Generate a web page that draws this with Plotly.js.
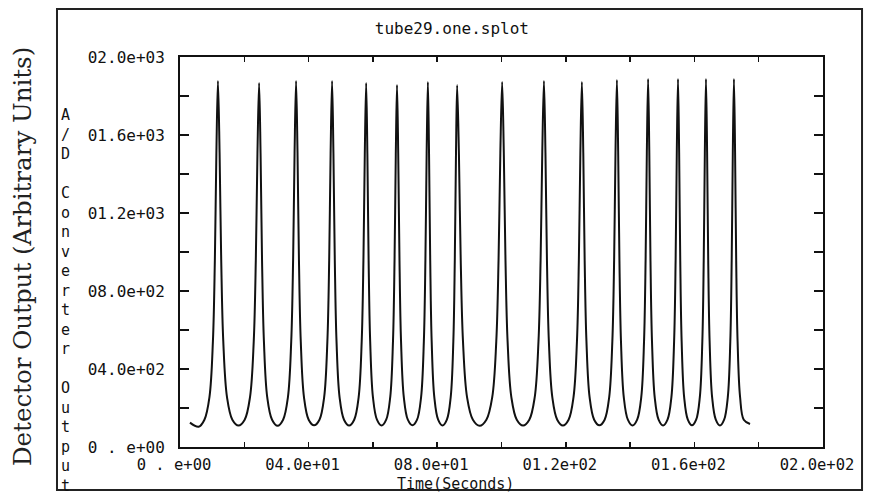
<!DOCTYPE html>
<html>
<head>
<meta charset="utf-8">
<script src="https://cdn.plot.ly/plotly-3.0.1.min.js"></script>
<style>html,body{margin:0;padding:0;background:#fff;}#chart{width:869px;height:494px;}</style>
</head>
<body>
<div id="chart"></div>
<script>
var time = [
  3.1, 5.8,
  7.6, 9.16, 10.24, 10.84, 11.32, 11.8, 12.31, 12.82, 13.46, 14.62, 16.28, 18.2,
  20.12, 21.78, 22.94, 23.58, 24.09, 24.6, 25.06, 25.52, 26.1, 27.13, 28.63, 30.35,
  32.07, 33.57, 34.6, 35.18, 35.64, 36.1, 36.55, 37.0, 37.56, 38.56, 40.02, 41.7,
  43.38, 44.84, 45.84, 46.4, 46.85, 47.3, 47.72, 48.15, 48.68, 49.63, 51.01, 52.6,
  54.19, 55.57, 56.52, 57.05, 57.48, 57.9, 58.28, 58.67, 59.15, 60.01, 61.26, 62.7,
  64.14, 65.39, 66.25, 66.73, 67.12, 67.5, 67.88, 68.27, 68.75, 69.61, 70.86, 72.3,
  73.74, 74.99, 75.85, 76.33, 76.72, 77.1, 77.46, 77.83, 78.28, 79.1, 80.29, 81.65,
  83.01, 84.2, 85.02, 85.47, 85.84, 86.2, 86.76, 87.32, 88.02, 89.28, 91.1, 93.2,
  95.3, 97.12, 98.38, 99.08, 99.64, 100.2, 100.72, 101.24, 101.89, 103.06, 104.75, 106.7,
  108.65, 110.34, 111.51, 112.16, 112.68, 113.2, 113.67, 114.14, 114.73, 115.8, 117.33, 119.1,
  120.87, 122.4, 123.47, 124.06, 124.53, 125.0, 125.44, 125.87, 126.42, 127.4, 128.82, 130.45,
  132.08, 133.5, 134.48, 135.03, 135.46, 135.9, 136.29, 136.68, 137.16, 138.03, 139.3, 140.75,
  142.2, 143.47, 144.34, 144.82, 145.21, 145.6, 145.97, 146.34, 146.81, 147.65, 148.86, 150.25,
  151.64, 152.85, 153.69, 154.16, 154.53, 154.9, 155.25, 155.6, 156.03, 156.81, 157.95, 159.25,
  160.55, 161.69, 162.47, 162.9, 163.25, 163.6, 163.95, 164.3, 164.73, 165.51, 166.65, 167.95,
  169.25, 170.39, 171.17, 171.6, 171.95, 172.3, 172.65, 173.0, 173.43, 174.21, 175.35, 177.3
];
// A/D converter output at each point
var output = [
  125, 104,
  140, 256, 543, 957, 1510, 1877, 1510, 957, 543, 256, 140, 110,
  140, 256, 543, 957, 1505, 1867, 1505, 957, 543, 256, 140, 109,
  140, 256, 543, 957, 1510, 1877, 1510, 957, 543, 256, 140, 111,
  140, 256, 543, 957, 1510, 1877, 1510, 957, 543, 256, 140, 110,
  140, 256, 543, 957, 1505, 1867, 1505, 957, 543, 256, 140, 110,
  140, 256, 543, 957, 1500, 1856, 1500, 957, 543, 256, 140, 111,
  140, 256, 543, 957, 1508, 1872, 1508, 957, 543, 256, 140, 110,
  140, 256, 543, 957, 1500, 1856, 1500, 957, 543, 256, 140, 109,
  140, 256, 543, 957, 1508, 1872, 1508, 957, 543, 256, 140, 110,
  140, 256, 543, 957, 1510, 1877, 1510, 957, 543, 256, 140, 110,
  140, 256, 543, 957, 1508, 1872, 1508, 957, 543, 256, 140, 111,
  140, 256, 543, 957, 1512, 1882, 1512, 957, 543, 256, 140, 110,
  140, 256, 543, 957, 1515, 1887, 1515, 957, 543, 256, 140, 110,
  140, 256, 543, 957, 1515, 1887, 1515, 957, 543, 256, 140, 111,
  140, 256, 543, 957, 1515, 1887, 1515, 957, 543, 256, 140, 110,
  140, 256, 543, 957, 1515, 1887, 1515, 957, 543, 256, 140, 118
];
var xTickVals = [0, 20, 40, 60, 80, 100, 120, 140, 160, 180, 200];
var xTickText = ["0 . e+00", "", "04.0e+01", "", "08.0e+01", "", "01.2e+02", "", "01.6e+02", "", "02.0e+02"];
var yTickVals = [0, 200, 400, 600, 800, 1000, 1200, 1400, 1600, 1800, 2000];
var yTickText = ["0 . e+00", "", "04.0e+02", "", "08.0e+02", "", "01.2e+03", "", "01.6e+03", "", "02.0e+03"];
var chartTitle = "tube29.one.splot";
var xLabel = "Time(Seconds)";
var yLabelOuter = "Detector Output (Arbitrary Units)";
var yLabelInner = "A/D Converter Output";

var mono = "DejaVu Sans Mono, Liberation Mono, monospace";
var stacked = yLabelInner.split("").map(function(c){ return c === " " ? "&nbsp;" : c; }).join("<br>");

var trace = {
  x: time, y: output, type: "scatter", mode: "lines",
  line: {color: "#111111", width: 2, shape: "spline", smoothing: 1},
  hoverinfo: "skip", showlegend: false
};

var axisCommon = {
  showgrid: false, zeroline: false, showline: true, linecolor: "#111", linewidth: 2,
  mirror: "ticks", ticks: "inside", tickcolor: "#111", tickwidth: 1.5,
  tickmode: "array", tickfont: {family: mono, size: 16, color: "#111"}
};

var layout = {
  width: 869, height: 494,
  margin: {l: 180, r: 46, t: 57, b: 47},
  paper_bgcolor: "#ffffff", plot_bgcolor: "#ffffff",
  title: {text: chartTitle, x: 0.52, xanchor: "center", y: 0.943, yanchor: "middle",
          font: {family: mono, size: 16, color: "#111"}},
  xaxis: Object.assign({}, axisCommon, {
    range: [0, 200], tickvals: xTickVals, ticktext: xTickText,
    tickfont: {family: mono, size: 15.5, color: "#111"},
    ticklen: 5, ticklabelshift: -6, ticklabelstandoff: 2
  }),
  yaxis: Object.assign({}, axisCommon, {
    range: [0, 2000], tickvals: yTickVals, ticktext: yTickText,
    ticklen: 9, ticklabelstandoff: 10
  }),
  shapes: [{
    type: "rect", xref: "paper", yref: "paper",
    x0: -0.1913, x1: 1.0607, y0: -0.110, y1: 1.123,
    line: {color: "#222", width: 2}, fillcolor: "rgba(0,0,0,0)", layer: "below"
  }],
  annotations: [
    {text: xLabel, xref: "paper", yref: "paper", x: 0.4277, y: -0.096,
     xanchor: "center", yanchor: "middle", showarrow: false,
     font: {family: mono, size: 15, color: "#111"}},
    {text: yLabelOuter, xref: "paper", yref: "paper", x: -0.2457, y: 0.487,
     xanchor: "center", yanchor: "middle", textangle: -90, showarrow: false,
     font: {family: "DejaVu Serif, Liberation Serif, serif", size: 24.5, color: "#222"}},
    {text: stacked, xref: "paper", yref: "paper", x: -0.1788, y: 0.375,
     xanchor: "center", yanchor: "middle", align: "center", showarrow: false,
     font: {family: mono, size: 15, color: "#111"}}
  ]
};

Plotly.newPlot("chart", [trace], layout, {displayModeBar: false, staticPlot: true});
</script>
</body>
</html>
